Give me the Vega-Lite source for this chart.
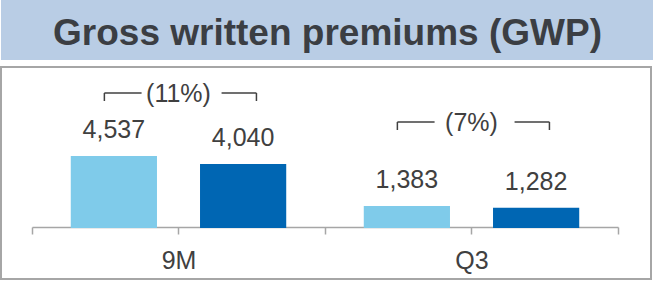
{
  "$schema": "https://vega.github.io/schema/vega-lite/v6.json",
  "padding": 0,
  "background": "white",
  "spacing": 6,
  "config": {"view": {"stroke": null}, "font": "Liberation Sans"},
  "datasets": {
    "gwp": [
      {"period": "9M", "series": "Prior year", "value": 4537},
      {"period": "9M", "series": "Current year", "value": 4040},
      {"period": "Q3", "series": "Prior year", "value": 1383},
      {"period": "Q3", "series": "Current year", "value": 1282}
    ],
    "changes": [
      {"period": "9M", "change": "(11%)", "level": 8507},
      {"period": "Q3", "change": "(7%)", "level": 6679}
    ]
  },
  "vconcat": [
    {
      "width": 653,
      "height": 60,
      "view": {"fill": "#b9cde5", "stroke": null},
      "data": {"values": [{"title": "Gross written premiums (GWP)"}]},
      "mark": {"type": "text", "font": "Liberation Sans", "fontWeight": "bold", "fontSize": 37, "color": "#3b3e43", "baseline": "middle", "dy": 4},
      "encoding": {"text": {"field": "title"}}
    },
    {
      "width": 650,
      "height": 212,
      "view": {"stroke": "#a6a6a6", "strokeWidth": 2},
      "resolve": {"axis": {"x": "independent"}},
      "layer": [
        {
          "data": {"name": "gwp"},
          "mark": {"type": "bar"},
          "encoding": {
            "x": {
              "field": "period", "type": "nominal", "sort": ["9M", "Q3"],
              "scale": {"range": [31, 617], "paddingInner": 0, "paddingOuter": 0},
              "axis": {"orient": "bottom", "offset": -52, "tickBand": "extent", "title": null, "labelAngle": 0, "labelFontSize": 25, "labelColor": "#404040", "labelPadding": 14, "domainColor": "#a6a6a6", "domainWidth": 1.5, "tickColor": "#a6a6a6", "tickWidth": 1.5, "tickSize": 7, "grid": false}
            },
            "xOffset": {"field": "series", "type": "nominal", "sort": ["Prior year", "Current year"], "scale": {"paddingInner": 0.333, "paddingOuter": 0.3}},
            "y": {"field": "value", "type": "quantitative", "scale": {"domain": [-3214, 10145], "nice": false, "zero": false}, "axis": null},
            "color": {"field": "series", "type": "nominal", "sort": ["Prior year", "Current year"], "scale": {"domain": ["Prior year", "Current year"], "range": ["#7fcbea", "#0066b3"]}, "legend": null}
          }
        },
        {
          "data": {"name": "gwp"},
          "mark": {"type": "text", "fontSize": 25, "color": "#404040", "baseline": "middle", "dy": -26},
          "encoding": {
            "x": {"field": "period", "type": "nominal", "sort": ["9M", "Q3"], "axis": null},
            "xOffset": {"field": "series", "type": "nominal", "sort": ["Prior year", "Current year"]},
            "y": {"field": "value", "type": "quantitative", "axis": null},
            "text": {"field": "value", "type": "quantitative", "format": ","}
          }
        },
        {
          "data": {"name": "changes"},
          "mark": {"type": "rule", "color": "#404040", "strokeWidth": 1.5},
          "encoding": {
            "x": {"field": "period", "type": "nominal", "bandPosition": 0.247, "axis": null},
            "x2": {"field": "period", "bandPosition": 0.374},
            "y": {"field": "level", "type": "quantitative", "axis": null}
          }
        },
        {
          "data": {"name": "changes"},
          "mark": {"type": "rule", "color": "#404040", "strokeWidth": 1.5},
          "encoding": {
            "x": {"field": "period", "type": "nominal", "bandPosition": 0.647, "axis": null},
            "x2": {"field": "period", "bandPosition": 0.766},
            "y": {"field": "level", "type": "quantitative", "axis": null}
          }
        },
        {
          "data": {"name": "changes"},
          "mark": {"type": "rule", "color": "#404040", "strokeWidth": 1.5, "y2Offset": 8},
          "encoding": {
            "x": {"field": "period", "type": "nominal", "bandPosition": 0.247, "axis": null},
            "y": {"field": "level", "type": "quantitative", "axis": null},
            "y2": {"field": "level"}
          }
        },
        {
          "data": {"name": "changes"},
          "mark": {"type": "rule", "color": "#404040", "strokeWidth": 1.5, "y2Offset": 8},
          "encoding": {
            "x": {"field": "period", "type": "nominal", "bandPosition": 0.766, "axis": null},
            "y": {"field": "level", "type": "quantitative", "axis": null},
            "y2": {"field": "level"}
          }
        },
        {
          "data": {"name": "changes"},
          "mark": {"type": "text", "fontSize": 25, "color": "#404040", "baseline": "middle", "dy": 1},
          "encoding": {
            "x": {
              "field": "period", "type": "nominal", "sort": ["9M", "Q3"],
              "axis": {"orient": "bottom", "offset": -52, "title": null, "labels": false, "domain": false, "ticks": true, "tickSize": 7, "tickColor": "#a6a6a6", "tickWidth": 1.5, "grid": false}
            },
            "y": {"field": "level", "type": "quantitative", "axis": null},
            "text": {"field": "change"}
          }
        }
      ]
    }
  ]
}
